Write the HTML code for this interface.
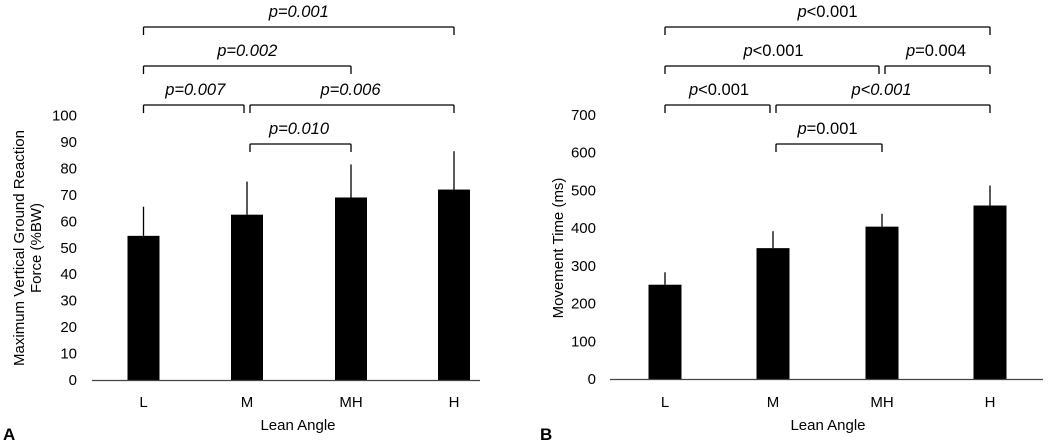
<!DOCTYPE html>
<html><head><meta charset="utf-8"><style>
body{margin:0;background:#fff;width:1050px;height:443px;overflow:hidden}
svg text{font-family:"Liberation Sans",sans-serif;fill:#000}
</style></head><body>
<svg id="c" width="1050" height="443" xmlns="http://www.w3.org/2000/svg"></svg>
<script>
const categories = ["L","M","MH","H"];
const forceMeans = [54.5, 62.5, 69, 72];
const forceErr = [11, 12.5, 12.5, 14.5];
const forceTicks = [0,10,20,30,40,50,60,70,80,90,100];
const timeMeans = [250, 347, 404, 460];
const timeErr = [33, 45, 34, 53];
const timeTicks = [0,100,200,300,400,500,600,700];
const forceBrackets = [[0,3,0,"p=0.001",true],[0,2,1,"p=0.002",true],[0,1,2,"p=0.007",true],[1,3,2,"p=0.006",true],[1,2,3,"p=0.010",true]];
const timeBrackets = [[0,3,0,"p<0.001",false],[0,2,1,"p<0.001",false],[2,3,1,"p=0.004",false],[0,1,2,"p<0.001",false],[1,3,2,"p<0.001",true],[1,2,3,"p=0.001",false]];

const svg = document.getElementById('c');
const NS = "http://www.w3.org/2000/svg";
function mk(tag, attrs, parent){const e=document.createElementNS(NS,tag);for(const k in attrs)e.setAttribute(k,attrs[k]);(parent||svg).appendChild(e);return e;}

function chart(cfg){
  const g = mk('g',{});
  
  
  const y = v => cfg.y0 - (v - 0) / cfg.max * (cfg.y0 - cfg.yTop);
  const x = i => cfg.xc[i];
  cfg.ticks.forEach(t=>{
    const tx = mk('text',{x:cfg.tickX,y:y(t)+5,'text-anchor':'end','font-size':15},g);
    tx.textContent = t;
    
    
  });
  cfg.means.forEach((m,i)=>{
    const eb = mk('line',{x1:x(i),x2:x(i),y1:y(m),y2:y(m+cfg.err[i]),stroke:'#000','stroke-width':1.3},g);
    
    
    const r = mk('rect',{x:x(i)-cfg.bw/2,y:y(m),width:cfg.bw,height:y(0)-y(m),fill:'#000'},g);
    
    
    const lt = mk('text',{x:x(i),y:407,'text-anchor':'middle','font-size':15},g);
    lt.textContent = categories[i];
    
    
  });
  const ax = mk('line',{x1:cfg.ax0,x2:cfg.ax1,y1:cfg.y0+0.5,y2:cfg.y0+0.5,stroke:'#444','stroke-width':1.2},g);
  
  
  const lv = [27,66,105,144];
  cfg.brackets.forEach(b=>{
    const xa = x(b[0])+(b[0]>0&&cfg.shiftStart?3:0), xb = x(b[1])-(cfg.shrinkEnd(b)?3:0);
    const yy = lv[b[2]];
    const p = mk('path',{d:`M${xa} ${yy+8}V${yy+1}Q${xa} ${yy} ${xa+1} ${yy}H${xb-1}Q${xb} ${yy} ${xb} ${yy+1}V${yy+8}`,fill:'none',stroke:'#000','stroke-width':1.3},g);
    
    
    const t = mk('text',{x:(x(b[0])+x(b[1]))/2,y:yy-10,'text-anchor':'middle','font-size':16.5},g);
    
    
    if(b[4]){t.setAttribute('font-style','italic');t.textContent=b[3];}
    else{const s=mk('tspan',{'font-style':'italic'},t);s.textContent='p';const r=mk('tspan',{},t);r.textContent=b[3].slice(1);}
  });
  const yt = mk('text',{transform:`translate(${cfg.titleX},248) rotate(-90)`,'text-anchor':'middle','font-size':15},g);
  
  
  cfg.title.forEach((l,k)=>{const s=mk('tspan',{x:0,dy:k?17:0},yt);s.textContent=l;});
  const xt = mk('text',{x:cfg.xtX,y:430,'text-anchor':'middle','font-size':15},g);
  xt.textContent='Lean Angle';
  
  
  const pl = mk('text',{x:cfg.panelX,y:440,'font-size':17,'font-weight':'bold'},g);
  pl.textContent=cfg.panel;
  
  
}
chart({name:'chart-a-force',y0:380,yTop:115.5,max:100,xc:[143.5,247,351,454],bw:32,ticks:forceTicks,tickX:77,means:forceMeans,err:forceErr,ax0:92,ax1:480,brackets:forceBrackets,shiftStart:true,shrinkEnd:b=>b[1]===1&&b[2]===2,title:['Maximum Vertical Ground Reaction','Force (%BW)'],titleX:24,xtX:298,panelX:3,panel:'A'});
chart({name:'chart-b-time',y0:379,yTop:115,max:700,xc:[665,773,882,990],bw:33,ticks:timeTicks,tickX:596,means:timeMeans,err:timeErr,ax0:610,ax1:1043,brackets:timeBrackets,shiftStart:true,shrinkEnd:b=>(b[1]===1&&b[2]===2)||(b[1]===2&&b[2]===1),title:['Movement Time (ms)'],titleX:563,xtX:828,panelX:540,panel:'B'});
</script>
</body></html>
